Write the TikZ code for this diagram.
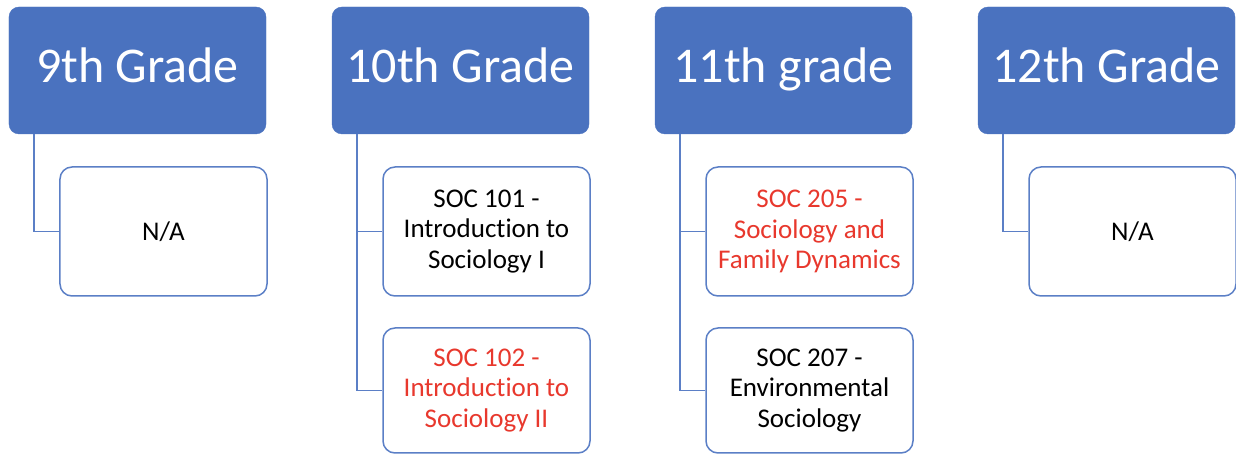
\documentclass[tikz,border=0pt]{standalone}
\usepackage{fontspec}
\setmainfont[Ligatures=NoCommon]{Carlito}
\definecolor{hdrblue}{HTML}{4A72BF}
\definecolor{lineblue}{HTML}{5B7FC6}
\definecolor{soctext}{HTML}{E8382D}
\tikzset{
  header/.style={draw=hdrblue, fill=hdrblue, rounded corners=10bp, minimum width=257bp, minimum height=127bp, inner sep=0pt, text height=34bp, text depth=10bp, text=white, font=\fontsize{50bp}{60bp}\selectfont},
  course/.style={draw=lineblue, line width=1.5bp, fill=white, rounded corners=12bp, minimum width=207bp, inner sep=0pt, align=center, font=\fontsize{27bp}{30.5bp}\selectfont},
  link/.style={draw=lineblue, line width=1.5bp}
}
\begin{document}
\begin{tikzpicture}[x=1bp,y=-1bp]
\useasboundingbox (0,0) rectangle (1236,455);
% headers
\node[header] (h9)  at (137.5,70.5)  {9th Grade};
\node[header] (h10) at (460.5,70.5)  {10th Grade};
\node[header] (h11) at (783.5,70.5)  {11th grade};
\node[header] (h12) at (1106.5,70.5) {12th Grade};
% courses
\node[course, minimum height=129bp] (c9)  at (163.5,231.5) {N/A};
\node[course, minimum height=129bp] (c101) at (486.5,231.5) {SOC 101 -\\Introduction to\\Sociology I};
\node[course, minimum height=125bp, text=soctext] (c102) at (486.5,390.5) {SOC 102 -\\Introduction to\\Sociology II};
\node[course, minimum height=129bp, text=soctext] (c205) at (809.5,231.5) {SOC 205 -\\Sociology and\\Family Dynamics};
\node[course, minimum height=125bp] (c207) at (809.5,390.5) {SOC 207 -\\Environmental\\Sociology};
\node[course, minimum height=129bp] (c12) at (1132.5,231.5) {N/A};
% connectors
\draw[link] ([xshift=25bp]h9.south west) |- (c9.west);
\draw[link] ([xshift=25bp]h10.south west) |- (c101.west);
\draw[link] ([xshift=25bp]h10.south west) |- (c102.west);
\draw[link] ([xshift=25bp]h11.south west) |- (c205.west);
\draw[link] ([xshift=25bp]h11.south west) |- (c207.west);
\draw[link] ([xshift=25bp]h12.south west) |- (c12.west);
\end{tikzpicture}
\end{document}
